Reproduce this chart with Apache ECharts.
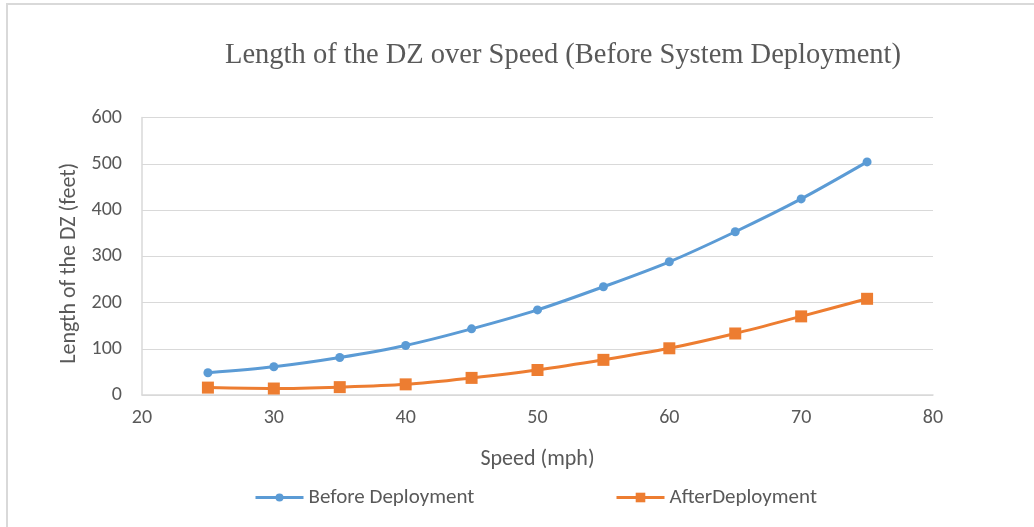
<!DOCTYPE html>
<html>
<head>
<meta charset="utf-8">
<script src="https://cdn.jsdelivr.net/npm/echarts@6/dist/echarts.min.js"></script>
<style>
  html, body { margin: 0; padding: 0; background: #fff; }
  #frame { position: absolute; left: 6px; top: 3px; width: 1100px; height: 600px;
           border-left: 2px solid #d9d9d9; border-top: 2px solid #d9d9d9; box-sizing: border-box; }
  #chart { position: absolute; left: 0; top: 0; width: 1034px; height: 527px; }
</style>
</head>
<body>
<div id="frame"></div>
<div id="chart"></div>
<script>
// Speed (mph) against length of the dilemma zone (feet)
const speeds = [25, 30, 35, 40, 45, 50, 55, 60, 65, 70, 75];
const beforeDeployment = [48, 61, 81, 107, 143, 184, 234, 288, 353, 424, 504];
const afterDeployment = [16, 14, 17, 23, 37, 54, 76, 101, 133, 170, 208];

const sans = "Carlito, 'Liberation Sans', sans-serif";
const labelColor = '#595959';

const chart = echarts.init(document.getElementById('chart'));
chart.setOption({
  animation: false,
  title: {
    text: 'Length of the DZ over Speed (Before System Deployment)',
    left: 558, top: 36, textAlign: 'center',
    textStyle: { fontFamily: "'Liberation Serif', serif", fontWeight: 'normal', fontSize: 28.5, color: labelColor }
  },
  legend: [
    {
      data: ['Before Deployment'],
      left: 249, top: 482, itemWidth: 48, itemHeight: 10, itemGap: 0,
      lineStyle: { width: 3 },
      textStyle: { fontFamily: sans, fontSize: 21, color: labelColor }
    },
    {
      data: ['AfterDeployment'],
      left: 610, top: 482, itemWidth: 48, itemHeight: 12, itemGap: 0,
      lineStyle: { width: 3 },
      textStyle: { fontFamily: sans, fontSize: 21, color: labelColor }
    }
  ],
  grid: { left: 142, right: 101, top: 117.5, bottom: 132, containLabel: false },
  xAxis: {
    type: 'value', min: 20, max: 80, interval: 10,
    name: 'Speed (mph)', nameLocation: 'middle', nameGap: 53,
    nameTextStyle: { fontFamily: sans, fontSize: 22, color: labelColor },
    axisLine: { lineStyle: { color: '#d9d9d9', width: 1.5 } },
    axisTick: { show: false },
    splitLine: { show: false },
    axisLabel: { fontFamily: sans, fontSize: 20, color: labelColor, margin: 13 }
  },
  yAxis: {
    type: 'value', min: 0, max: 600, interval: 100,
    name: 'Length of the DZ (feet)', nameLocation: 'middle', nameGap: 59,
    nameTextStyle: { fontFamily: sans, fontSize: 22, color: labelColor, padding: [0, 14, 0, 0] },
    axisLine: { show: true, lineStyle: { color: '#d9d9d9', width: 1.5 } },
    axisTick: { show: false },
    splitLine: { lineStyle: { color: '#d9d9d9', width: 1.2 } },
    axisLabel: { fontFamily: sans, fontSize: 20, color: labelColor, margin: 20 }
  },
  series: [
    {
      name: 'Before Deployment', type: 'line', smooth: 0.3,
      data: speeds.map((s, i) => [s, beforeDeployment[i]]),
      symbol: 'circle', symbolSize: 9,
      lineStyle: { color: '#5B9BD5', width: 3 },
      itemStyle: { color: '#5B9BD5' }
    },
    {
      name: 'AfterDeployment', type: 'line', smooth: 0.3,
      data: speeds.map((s, i) => [s, afterDeployment[i]]),
      symbol: 'rect', symbolSize: 12,
      lineStyle: { color: '#ED7D31', width: 3 },
      itemStyle: { color: '#ED7D31' }
    }
  ]
});
</script>
</body>
</html>
